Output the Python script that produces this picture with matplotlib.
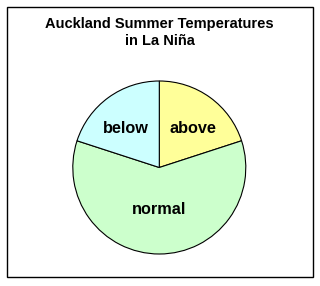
import matplotlib.pyplot as plt
from matplotlib.patches import Rectangle

# data
labels = ['above', 'normal', 'below']
shares = [20, 60, 20]
colors = ['#FFFF99', '#CCFFCC', '#CCFFFF']
title = 'Auckland Summer Temperatures\nin La Niña'

W, H = 320, 286
fig = plt.figure(figsize=(W / 100, H / 100), dpi=100)
fig.patch.set_facecolor('white')

# outer frame
fig.patches.append(Rectangle((6.5 / W, 9 / H), 306 / W, 270 / H,
                             transform=fig.transFigure, fill=False,
                             edgecolor='black', linewidth=1.0))

fig.text(159.7 / W, 1 - 32.5 / H, title, ha='center', va='center',
         family='Liberation Sans', fontweight='bold', fontsize=10.5,
         linespacing=1.2)

# pie
cx, cy, r = 159.3, H - 167.5, 86.5
ax = fig.add_axes([(cx - r) / W, (cy - r) / H, 2 * r / W, 2 * r / H])
wedges, texts = ax.pie(shares, labels=labels, colors=colors, startangle=90,
                       counterclock=False, labeldistance=0.6,
                       wedgeprops=dict(edgecolor='black', linewidth=0.8),
                       textprops=dict(family='Liberation Sans', fontweight='bold',
                                      fontsize=11.7, ha='center', va='center'))
# normal label sits closer to the centre
x, y = texts[1].get_position()
texts[1].set_position((x * 0.48 / 0.6, y * 0.48 / 0.6))
# above/below sit a touch lower than the slice middle
for t in (texts[0], texts[2]):
    x, y = t.get_position()
    t.set_position((x * 1.1, y * 0.92))
ax.set_xlim(-1, 1)
ax.set_ylim(-1, 1)
ax.axis('off')

fig.savefig('out.png', dpi=100)
